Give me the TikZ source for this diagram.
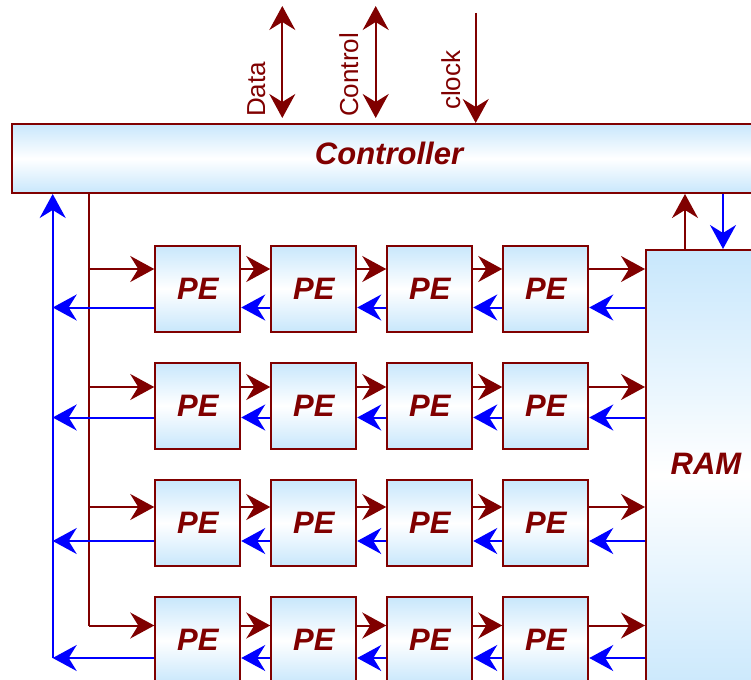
\documentclass[tikz,border=0pt]{standalone}
\usepackage{fontspec}
\setmainfont{Liberation Sans}
\usetikzlibrary{arrows.meta}
\definecolor{mar}{RGB}{128,0,0}
\definecolor{lb}{RGB}{200,231,252}
\definecolor{bl}{RGB}{0,0,255}
\begin{document}
\begin{tikzpicture}[x=1pt,y=-1pt,
  >={Stealth[length=24pt,width=26pt,inset=8pt]},
  box/.style={draw=mar, line width=2pt, top color=lb, bottom color=lb, middle color=white,
    text=mar, font=\fontsize{31}{36}\selectfont\bfseries\itshape, inner sep=0pt},
  pebox/.style={box, minimum width=85pt, minimum height=86pt},
  rline/.style={draw=mar, line width=2pt},
  rarr/.style={rline, ->},
  barr/.style={draw=bl, line width=2pt, ->},
  lbl/.style={text=mar, font=\fontsize{26}{30}\selectfont, rotate=90, anchor=base west, inner sep=0pt}
]
\useasboundingbox (0,0) rectangle (751,679);
\clip (0,0) rectangle (751,679);

% main blocks
\node[box, minimum width=754pt, minimum height=69pt, text depth=10pt] (ctrl) at (389,158.5) {Controller};
\node[box, minimum width=120pt, minimum height=450pt, text depth=22pt] (ram) at (706,475) {RAM};

\foreach \r/\y in {1/288.7,2/405.7,3/523,4/640.3}{
  \foreach \c/\x in {1/197.75,2/313.75,3/429.75,4/545.75}{
    \node[pebox] (p\r\c) at (\x,\y) {PE};
  }
}

% signal levels
\coordinate (r1) at (0,269);   \coordinate (b1) at (0,307.5);
\coordinate (r2) at (0,387);   \coordinate (b2) at (0,417.5);
\coordinate (r3) at (0,507);   \coordinate (b3) at (0,541);
\coordinate (r4) at (0,625.5); \coordinate (b4) at (0,658);
\coordinate (rb) at (89.3,0);
\coordinate (bb) at (52.7,0);
\coordinate (ru) at (685,0);
\coordinate (rd) at (723,0);

% buses
\draw[rline] (ctrl.south -| rb) -- (rb |- r4);
\draw[barr] (bb |- b4) -- (ctrl.south -| bb);

\foreach \r in {1,2,3,4}{
  \draw[rarr] (rb |- r\r) -- (p\r1.west |- r\r);
  \draw[barr] (p\r1.west |- b\r) -- (bb |- b\r);
  \draw[rarr] (p\r1.east |- r\r) -- (p\r2.west |- r\r);
  \draw[barr] (p\r2.west |- b\r) -- (p\r1.east |- b\r);
  \draw[rarr] (p\r2.east |- r\r) -- (p\r3.west |- r\r);
  \draw[barr] (p\r3.west |- b\r) -- (p\r2.east |- b\r);
  \draw[rarr] (p\r3.east |- r\r) -- (p\r4.west |- r\r);
  \draw[barr] (p\r4.west |- b\r) -- (p\r3.east |- b\r);
  \draw[rarr] (p\r4.east |- r\r) -- (ram.west |- r\r);
  \draw[barr] (ram.west |- b\r) -- (p\r4.east |- b\r);
}

% RAM <-> controller
\draw[rarr] (ram.north -| ru) -- (ctrl.south -| ru);
\draw[barr] (ctrl.south -| rd) -- (ram.north -| rd);

% top signals
\coordinate (dA) at (282.3,6);
\coordinate (cA) at (375.7,6);
\coordinate (kA) at (475.7,13);
\draw[rline, <->, shorten >=5pt] (dA) -- (ctrl.north -| dA);
\draw[rline, <->, shorten >=5pt] (cA) -- (ctrl.north -| cA);
\draw[rarr] (kA) -- (ctrl.north -| kA);

\node[lbl] (tdata) at (265,117) {Data};
\node[lbl] (tcontrol) at (358,117) {Control};
\node[lbl] (tclock) at (460,110) {clock};
\end{tikzpicture}
\end{document}
